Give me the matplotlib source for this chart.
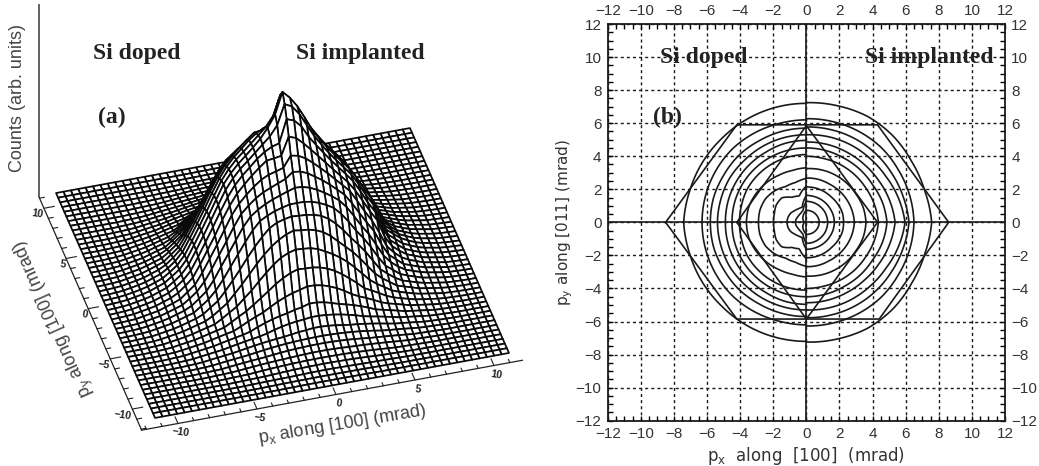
import numpy as np
import matplotlib
matplotlib.use("Agg")
import matplotlib.pyplot as plt
from matplotlib.collections import PolyCollection

plt.rcParams['mathtext.default'] = 'regular'
W, H = 1039, 466

# ---------- data ----------
angles_deg = [0, 15, 30, 45, 60, 75, 90]
radii_implanted = [
    [7.57, 7.40, 7.35, 7.40, 7.40, 7.30, 7.24],
    [6.50, 6.45, 6.40, 6.40, 6.35, 6.30, 6.27],
    [6.20, 6.05, 5.95, 5.90, 5.85, 5.80, 5.77],
    [5.96, 5.75, 5.55, 5.45, 5.40, 5.35, 5.30],
    [5.36, 5.20, 5.05, 4.95, 4.90, 4.88, 4.86],
    [4.87, 4.75, 4.60, 4.55, 4.50, 4.50, 4.50],
    [4.35, 4.25, 4.15, 4.10, 4.05, 4.00, 4.00],
    [3.60, 3.55, 3.45, 3.40, 3.35, 3.30, 3.25],
    [2.90, 2.85, 2.80, 2.75, 2.70, 2.70, 2.68],
    [2.25, 2.25, 2.20, 2.15, 2.15, 2.15, 2.14],
    [1.69, 1.68, 1.66, 1.65, 1.64, 1.63, 1.63],
    [1.29, 1.28, 1.28, 1.27, 1.27, 1.27, 1.27],
    [0.78, 0.77, 0.76, 0.75, 0.74, 0.73, 0.73],
]
radii_doped = [
    [7.41, 7.30, 7.25, 7.20, 7.20, 7.20, 7.20],
    [6.30, 6.30, 6.30, 6.30, 6.25, 6.20, 6.20],
    [5.80, 5.80, 5.75, 5.75, 5.70, 5.70, 5.70],
    [5.37, 5.35, 5.35, 5.30, 5.30, 5.30, 5.30],
    [4.89, 4.90, 4.90, 4.90, 4.90, 4.95, 4.96],
    [4.49, 4.50, 4.50, 4.50, 4.50, 4.50, 4.50],
    [4.04, 4.05, 4.10, 4.10, 4.10, 4.10, 4.10],
    [3.62, 3.60, 3.50, 3.40, 3.30, 3.25, 3.30],
    [2.89, 2.90, 2.85, 2.70, 2.50, 2.50, 2.66],
    [1.98, 2.00, 2.10, 2.10, 1.75, 1.65, 2.20],
    [1.17, 1.15, 1.10, 1.00, 0.95, 0.95, 1.63],
    [0.65, 0.65, 0.62, 0.62, 0.65, 0.75, 1.27],
    [0.15, 0.15, 0.20, 0.30, 0.40, 0.55, 0.73],
]
contour_counts = [12, 25, 38, 51, 64, 77, 90, 103, 116, 129, 142, 155, 168]
peak_radius = [0.0, 0.3]
peak_counts = [181, 177]
tail_radius = [8.6, 10.0]
tail_counts = [5, 1]

hexagon_px = [-8.5, -4.2, 4.3, 8.6, 4.4, -4.2, -8.5]
hexagon_py = [0, 5.9, 5.9, 0, -5.85, -5.85, 0]
diamond_px = [-4.2, 0, 4.3, 0, -4.2]
diamond_py = [0, 5.85, 0, -5.85, 0]

b_major_ticks = [-12, -10, -8, -6, -4, -2, 0, 2, 4, 6, 8, 10, 12]
a_major_ticks = [-10, -5, 0, 5, 10]
a_minor_ticks = list(range(-12, 12))

# ---------- panel (a) layout: oblique projection, in pixels ----------
ORIGIN = np.array([282.5, 273.0])
EX = np.array([15.8, -2.9])
EY = np.array([-4.42, -10.04])
GRID_HALF = 11.2
N_CELLS = 48
AX_PY = -12.1   # px-axis sits at this py
AX_PX = -12.3   # py-axis sits at this px
AX_PX_END = 11.8
AX_PY_END = 11.2


def project(px, py, z=0.0):
    px, py, z = np.asarray(px, float), np.asarray(py, float), np.asarray(z, float)
    return ORIGIN[0] + px * EX[0] + py * EY[0], ORIGIN[1] + px * EX[1] + py * EY[1] - z


def counts_at(px, py):
    out = np.zeros_like(px)
    ang = np.degrees(np.arctan2(np.abs(py), np.abs(px)))
    rad = np.hypot(px, py)
    for idx in np.ndindex(px.shape):
        table = radii_doped if px[idx] < 0 else radii_implanted
        rr = [np.interp(ang[idx], angles_deg, row) for row in table]
        lo = min(rr[-1], peak_radius[1])
        xs = [0.0, lo] + rr[::-1] + tail_radius + [GRID_HALF]
        ys = peak_counts + contour_counts[::-1] + tail_counts + [0]
        out[idx] = np.interp(rad[idx], xs, ys)
    return out


fig = plt.figure(figsize=(W / 100, H / 100), dpi=100)
ax = fig.add_axes([0, 0, 530 / W, 1])
ax.set_xlim(0, 530)
ax.set_ylim(466, 0)
ax.axis('off')

nodes = np.linspace(-GRID_HALF, GRID_HALF, N_CELLS + 1)
PX, PY = np.meshgrid(nodes, nodes)
Z = counts_at(PX, PY)
SX, SY = project(PX, PY, Z)
polys, depth = [], []
for i in range(N_CELLS):
    for j in range(N_CELLS):
        polys.append([(SX[i, j], SY[i, j]), (SX[i, j + 1], SY[i, j + 1]),
                      (SX[i + 1, j + 1], SY[i + 1, j + 1]), (SX[i + 1, j], SY[i + 1, j])])
        depth.append(0.28 * PX[i, j] + PY[i, j])
order = np.argsort(depth)[::-1]
ax.add_collection(PolyCollection([polys[k] for k in order], facecolors='white',
                                 edgecolors='#0a0a0a', linewidths=1.25))

# axes of panel (a)
AXC = '#222222'
x0, y0 = project(AX_PX, AX_PY)
x1, y1 = project(AX_PX_END, AX_PY)
x2, y2 = project(AX_PX, AX_PY_END)
ax.plot([x0, x1], [y0, y1], color=AXC, lw=0.9)
ax.plot([x0, x2], [y0, y2], color=AXC, lw=0.9)
ax.plot([x2, x2], [y2, 5], color='#555555', lw=1.3)
for t in a_minor_ticks:
    L = 0.65 if t in a_major_ticks else 0.3
    xa, ya = project(t, AX_PY)
    xb, yb = project(t, AX_PY + L)
    ax.plot([xa, xb], [ya, yb], color=AXC, lw=0.8)
    xa, ya = project(AX_PX, t)
    xb, yb = project(AX_PX + L, t)
    ax.plot([xa, xb], [ya, yb], color=AXC, lw=0.8)
for t in a_major_ticks:
    xa, ya = project(t, AX_PY)
    ax.text(xa + 3, ya + 9, str(t).replace('-', '\u2212'), fontsize=7.5, family='Liberation Sans',
            ha='center', va='center', rotation=-8, color='#222222', fontweight='bold')
    xa, ya = project(AX_PX, t)
    ax.text(xa, ya + 6, str(t).replace('-', '\u2212'), fontsize=7.5, family='Liberation Sans',
            ha='right', va='center', rotation=-8, color='#222222', fontweight='bold')

ax.text(18, 98, 'Counts (arb. units)', rotation=90, fontsize=13, family='Liberation Sans',
        color='#444444', ha='center', va='center')
ax.text(55, 318, r'p$_{y}$ along [100] (mrad)', rotation=114, fontsize=13, family='Liberation Sans',
        color='#444444', ha='center', va='center', rotation_mode='anchor')
ax.text(342, 425, r'p$_{x}$ along [100] (mrad)', rotation=9.5, fontsize=13, family='Liberation Sans',
        color='#444444', ha='center', va='center', rotation_mode='anchor')
serif = dict(family='Liberation Serif', fontweight='bold', fontsize=17, color='#222222',
             ha='center', va='center')
ax.text(137, 54, 'Si doped', **serif)
ax.text(360, 54, 'Si implanted', **serif)
ax.text(112, 117, '(a)', **serif)

# ---------- panel (b) ----------
L, R, T, B = 607.7, 1005.0, 24.0, 420.7
bx = fig.add_axes([L / W, 1 - B / H, (R - L) / W, (B - T) / H])
bx.set_xlim(-12, 12)
bx.set_ylim(-12, 12)
fine = np.linspace(0, 90, 46)
theta = np.radians(fine)
C = '#1a1a1a'
for sgn, table in ((1, radii_implanted), (-1, radii_doped)):
    for row in table:
        r = np.interp(fine, angles_deg, row)
        xs = sgn * r * np.cos(theta)
        ys = r * np.sin(theta)
        bx.plot(np.r_[xs[::-1], xs[1:]], np.r_[ys[::-1], -ys[1:]], color=C, lw=1.2)
bx.plot(hexagon_px, hexagon_py, color=C, lw=1.2)
bx.plot(diamond_px, diamond_py, color=C, lw=1.2)
bx.axhline(0, color=C, lw=1.2)
bx.axvline(0, color=C, lw=1.2)
bx.grid(True, which='major', color=C, lw=1.0, ls=(0, (2.2, 2.2)))
bx.set_axisbelow(True)
bx.set_xticks(b_major_ticks)
bx.set_yticks(b_major_ticks)
bx.set_xticks(np.arange(-12, 12.01, 0.5), minor=True)
bx.set_yticks(np.arange(-12, 12.01, 0.5), minor=True)
bx.tick_params(which='both', direction='in', length=3.6, width=1.0, top=True, right=True)
bx.tick_params(which='major', labeltop=True, labelright=True, labelsize=11, labelcolor='#333333', pad=4.5)
for lab in bx.get_xticklabels() + bx.get_yticklabels():
    lab.set_family('Liberation Sans')
for s in bx.spines.values():
    s.set_linewidth(1.3)
    s.set_color(C)
bx.set_xlabel(r'p$_{x}$  along  [100]  (mrad)', fontsize=12, color='#333333')
bx.set_ylabel(r'p$_{y}$ along [011] (mrad)', fontsize=11, color='#333333')
bx.xaxis.set_label_coords(0.5, -0.061)
bx.yaxis.set_label_coords(-0.082, 0.5)
bx.text(-6.2, 10, 'Si doped', **serif)
bx.text(7.4, 10, 'Si implanted', **serif)
bx.text(-8.4, 6.36, '(b)', **serif)

fig.savefig('out.png', dpi=100)
